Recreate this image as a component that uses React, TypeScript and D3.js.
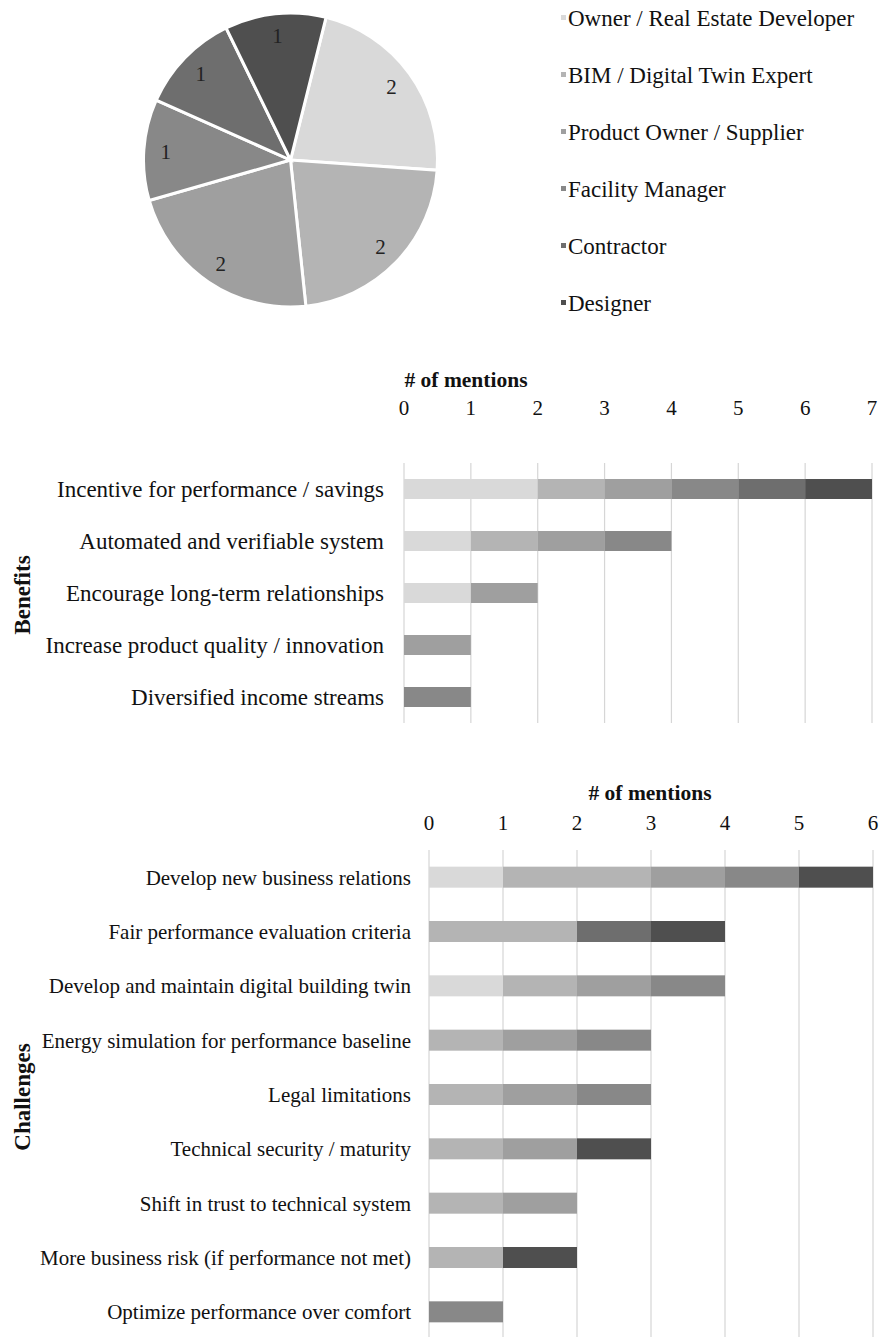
import React from "react";
import * as d3 from "d3";

const roles = [
  "Owner / Real Estate Developer",
  "BIM / Digital Twin Expert",
  "Product Owner / Supplier",
  "Facility Manager",
  "Contractor",
  "Designer",
];
const roleColors = ["#d9d9d9", "#b4b4b4", "#9f9f9f", "#888888", "#6e6e6e", "#4f4f4f"];
const roleCounts = [2, 2, 2, 1, 1, 1];

const benefitCategories = [
  "Incentive for performance / savings",
  "Automated and verifiable system",
  "Encourage long-term relationships",
  "Increase product quality / innovation",
  "Diversified income streams",
];
const benefitOwner = [2, 1, 1, 0, 0];
const benefitBIM = [1, 1, 0, 0, 0];
const benefitProduct = [1, 1, 1, 1, 0];
const benefitFacility = [1, 1, 0, 0, 1];
const benefitContractor = [1, 0, 0, 0, 0];
const benefitDesigner = [1, 0, 0, 0, 0];
const benefitTicks = [0, 1, 2, 3, 4, 5, 6, 7];

const challengeCategories = [
  "Develop new business relations",
  "Fair performance evaluation criteria",
  "Develop and maintain digital building twin",
  "Energy simulation for performance baseline",
  "Legal limitations",
  "Technical security / maturity",
  "Shift in trust to technical system",
  "More business risk (if performance not met)",
  "Optimize performance over comfort",
];
const challengeOwner = [1, 0, 1, 0, 0, 0, 0, 0, 0];
const challengeBIM = [2, 2, 1, 1, 1, 1, 1, 1, 0];
const challengeProduct = [1, 0, 1, 1, 1, 1, 1, 0, 0];
const challengeFacility = [1, 0, 1, 1, 1, 0, 0, 0, 1];
const challengeContractor = [0, 1, 0, 0, 0, 0, 0, 0, 0];
const challengeDesigner = [1, 1, 0, 0, 0, 1, 0, 1, 0];
const challengeTicks = [0, 1, 2, 3, 4, 5, 6];

const FONT = "'Liberation Serif', 'Times New Roman', serif";

type BarProps = {
  categories: string[];
  series: number[][];
  ticks: number[];
  x0: number;
  x1: number;
  y0: number;
  y1: number;
  tickY: number;
  titleX: number;
  titleY: number;
  labelX: number;
  labelSize: number;
  groupLabel: string;
  groupY: number;
  barH: number;
};

function StackedBars(p: BarProps) {
  const max = p.ticks[p.ticks.length - 1];
  const x = d3.scaleLinear().domain([0, max]).range([p.x0, p.x1]);
  const y = d3.scaleBand<string>().domain(p.categories).range([p.y0, p.y1]);
  const rows = p.categories.map((c, i) => {
    const o: any = { cat: c };
    roles.forEach((r, k) => (o[r] = p.series[k][i]));
    return o;
  });
  const stack = d3.stack<any>().keys(roles)(rows);
  return (
    <g>
      <text x={p.titleX} y={p.titleY} textAnchor="middle" fontFamily={FONT} fontWeight="bold" fontSize={21.5} fill="#111">
        # of mentions
      </text>
      {p.ticks.map((t) => (
        <g key={t}>
          <line x1={x(t)} x2={x(t)} y1={p.y0} y2={p.y1} stroke="#d6d6d6" strokeWidth={1.2} />
          <text x={x(t)} y={p.tickY} textAnchor="middle" fontFamily={FONT} fontSize={21} fill="#111">
            {t}
          </text>
        </g>
      ))}
      {stack.map((layer, k) =>
        layer.map((d, i) => {
          const w = x(d[1]) - x(d[0]);
          if (w <= 0) return null;
          const cy = (y(p.categories[i]) as number) + y.bandwidth() / 2;
          return (
            <rect
              key={k + "-" + i}
              x={x(d[0])}
              y={cy - p.barH / 2}
              width={w}
              height={p.barH}
              fill={roleColors[k]}
            />
          );
        })
      )}
      {p.categories.map((c) => (
        <text
          key={c}
          x={p.labelX}
          y={(y(c) as number) + y.bandwidth() / 2}
          dy="0.35em"
          textAnchor="end"
          fontFamily={FONT}
          fontSize={p.labelSize}
          fill="#111"
        >
          {c}
        </text>
      ))}
      <text
        transform={`translate(30,${p.groupY}) rotate(-90)`}
        textAnchor="middle"
        fontFamily={FONT}
        fontWeight="bold"
        fontSize={23}
        fill="#111"
      >
        {p.groupLabel}
      </text>
    </g>
  );
}

export default function App() {
  const cx = 290.5;
  const cy = 160;
  const r = 147;
  const start = (14 * Math.PI) / 180;
  const pie = d3.pie<number>().sort(null).startAngle(start).endAngle(start + 2 * Math.PI)(roleCounts);
  const arc = d3.arc<d3.PieArcDatum<number>>().innerRadius(0).outerRadius(r);
  const labelArc = d3.arc<d3.PieArcDatum<number>>().innerRadius(r * 0.85).outerRadius(r * 0.85);

  return (
    <svg
      width={880}
      height={1337}
      style={{ position: "absolute", left: 0, top: 0, background: "#fff" }}
    >
      <rect width={880} height={1337} fill="#fff" />
      <g transform={`translate(${cx},${cy})`}>
        {pie.map((d, i) => (
          <path key={i} d={arc(d) as string} fill={roleColors[i]} stroke="#fff" strokeWidth={3} />
        ))}
        {pie.map((d, i) => {
          const [lx, ly] = labelArc.centroid(d);
          return (
            <text key={"l" + i} x={lx} y={ly} dy="0.35em" textAnchor="middle" fontFamily={FONT} fontSize={21} fill="#222">
              {d.data}
            </text>
          );
        })}
      </g>
      {roles.map((role, i) => (
        <g key={role} transform={`translate(561,${18 + i * 57})`}>
          <rect x={0} y={-3} width={5} height={5} fill={roleColors[i]} />
          <text x={7} y={0} dy="0.35em" fontFamily={FONT} fontSize={23} fill="#111">
            {role}
          </text>
        </g>
      ))}
      <StackedBars
        categories={benefitCategories}
        series={[benefitOwner, benefitBIM, benefitProduct, benefitFacility, benefitContractor, benefitDesigner]}
        ticks={benefitTicks}
        x0={404}
        x1={872}
        y0={463}
        y1={723}
        tickY={415}
        titleX={466}
        titleY={387}
        labelX={384}
        labelSize={23}
        groupLabel="Benefits"
        groupY={595}
        barH={20}
      />
      <StackedBars
        categories={challengeCategories}
        series={[challengeOwner, challengeBIM, challengeProduct, challengeFacility, challengeContractor, challengeDesigner]}
        ticks={challengeTicks}
        x0={429}
        x1={873}
        y0={850}
        y1={1339}
        tickY={830}
        titleX={650}
        titleY={800}
        labelX={411}
        labelSize={21}
        groupLabel="Challenges"
        groupY={1097}
        barH={21}
      />
    </svg>
  );
}
